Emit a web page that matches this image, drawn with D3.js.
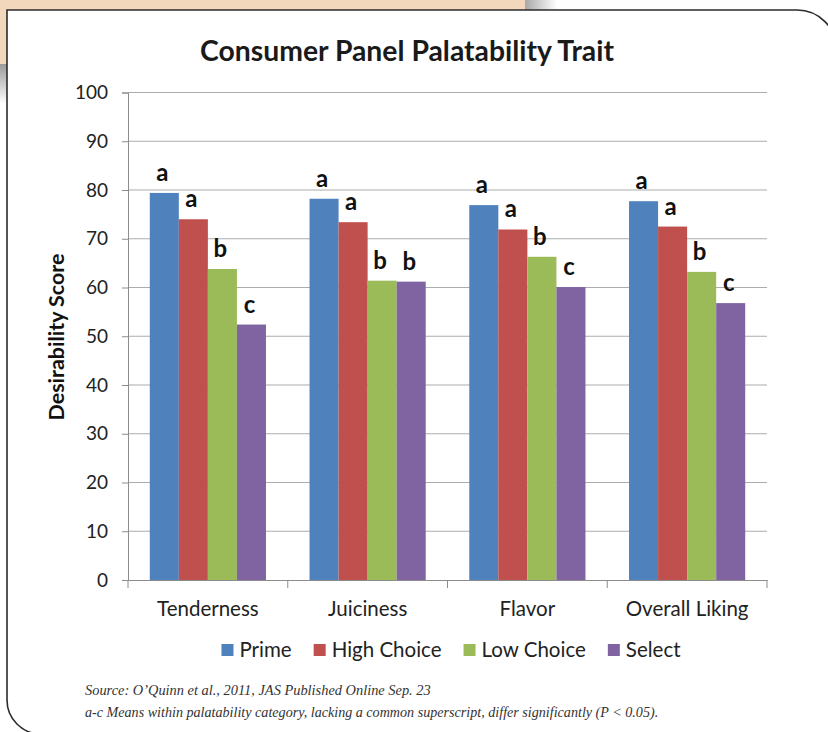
<!DOCTYPE html>
<html>
<head>
<meta charset="utf-8">
<script src="https://cdn.jsdelivr.net/npm/d3@7"></script>
<style>
  body { margin: 0; background: #fff; }
  svg { display: block; }
</style>
</head>
<body>
<svg id="chart"></svg>
<script>
// data
var categories = ["Tenderness", "Juiciness", "Flavor", "Overall Liking"];
var series = ["Prime", "High Choice", "Low Choice", "Select"];
var prime      = [79.4, 78.2, 76.9, 77.7];
var highChoice = [74.0, 73.4, 71.9, 72.5];
var lowChoice  = [63.8, 61.4, 66.3, 63.2];
var select     = [52.4, 61.2, 60.1, 56.8];
// significance letters, same layout as the values
var primeSig      = ["a", "a", "a", "a"];
var highChoiceSig = ["a", "a", "a", "a"];
var lowChoiceSig  = ["b", "b", "b", "b"];
var selectSig     = ["c", "b", "c", "c"];
var yTicks = [0, 10, 20, 30, 40, 50, 60, 70, 80, 90, 100];

var colors = ["#4F81BD", "#C0504D", "#9BBB59", "#8064A2"];
var values = [prime, highChoice, lowChoice, select];
var sigs = [primeSig, highChoiceSig, lowChoiceSig, selectSig];

var W = 828, H = 732;
var font = "Lato, 'Open Sans', sans-serif";

var svg = d3.select("#chart").attr("width", W).attr("height", H);

// shrink/grow a text node's font-size so it spans a given width
function fit(sel, w) {
    var len = sel.node().getComputedTextLength();
    var fs = parseFloat(sel.attr("font-size"));
    sel.attr("font-size", (fs * w / len).toFixed(2));
}

// --- page background bits (peach panel behind, shadows) ---
var defs = svg.append("defs");
var g1 = defs.append("linearGradient").attr("id", "shTop");
g1.append("stop").attr("offset", 0).attr("stop-color", "#a8a8a8");
g1.append("stop").attr("offset", 1).attr("stop-color", "#ffffff");
var g2 = defs.append("linearGradient").attr("id", "shLeft")
    .attr("x1", 0).attr("y1", 0).attr("x2", 0).attr("y2", 1);
g2.append("stop").attr("offset", 0).attr("stop-color", "#9a9a9a");
g2.append("stop").attr("offset", 1).attr("stop-color", "#ffffff");

svg.append("rect").attr("x", 0).attr("y", 0).attr("width", 525).attr("height", 64)
    .attr("fill", "#f2d7bd");
svg.append("rect").attr("x", 525).attr("y", 0).attr("width", 32).attr("height", 12)
    .attr("fill", "url(#shTop)");
svg.append("rect").attr("x", 0).attr("y", 64).attr("width", 8).attr("height", 40)
    .attr("fill", "url(#shLeft)");
svg.append("path")
    .attr("d", "M812,734 L836,706 L836,734 Z")
    .attr("fill", "#b0b0b0");

// white rounded panel
svg.append("path")
    .attr("d", "M7,10 H797 A39.5,39.5 0 0 1 836.5,49.5 V734 H41 A34,34 0 0 1 7,700 Z")
    .attr("fill", "#fff")
    .attr("stroke", "#2b2b2b")
    .attr("stroke-width", 1.6);

// --- chart ---
var plotL = 128, plotR = 767, plotT = 92.5, plotB = 580;

var x = d3.scaleBand().domain(categories).range([plotL, plotR]).padding(0);
var xs = d3.scaleBand().domain(series).range([0, x.bandwidth()])
    .paddingInner(0).paddingOuter(0.75);
var y = d3.scaleLinear().domain([0, 100]).range([plotB, plotT]);

// gridlines
svg.append("g").selectAll("line").data(yTicks.filter(function(d) { return d > 0; }))
    .join("line")
    .attr("x1", plotL).attr("x2", plotR)
    .attr("y1", function(d) { return y(d); }).attr("y2", function(d) { return y(d); })
    .attr("stroke", "#acacac").attr("stroke-width", 1.2);

// y axis
var yAxis = svg.append("g")
    .attr("transform", "translate(" + plotL + ",0)")
    .call(d3.axisLeft(y).tickValues(yTicks).tickSize(6).tickPadding(14));
yAxis.select(".domain").attr("stroke", "#8c8c8c");
yAxis.selectAll(".tick line").attr("stroke", "#8c8c8c");
yAxis.selectAll("text").attr("font-family", font).attr("font-size", 19)
    .attr("fill", "#222");

// bars
var groups = svg.append("g").selectAll("g").data(series).join("g")
    .attr("fill", function(d, i) { return colors[i]; });

groups.each(function(s, si) {
    d3.select(this).selectAll("rect").data(values[si]).join("rect")
        .attr("x", function(d, ci) { return x(categories[ci]) + xs(s); })
        .attr("y", function(d) { return y(d); })
        .attr("width", xs.bandwidth())
        .attr("height", function(d) { return y(0) - y(d); });
});

// significance letters
var sigLayer = svg.append("g");
series.forEach(function(s, si) {
    sigLayer.append("g").selectAll("text").data(sigs[si]).join("text")
        .attr("x", function(d, ci) { return x(categories[ci]) + xs(s) + xs.bandwidth() / 2 - 2; })
        .attr("y", function(d, ci) { return y(values[si][ci]) - 12; })
        .attr("text-anchor", "middle")
        .attr("font-family", font).attr("font-weight", "bold").attr("font-size", 24)
        .attr("fill", "#111")
        .text(function(d) { return d; });
});

// x axis
var xAxis = svg.append("g")
    .attr("transform", "translate(0," + plotB + ")")
    .call(d3.axisBottom(x).tickSize(0).tickPadding(21));
xAxis.select(".domain").attr("stroke", "#8c8c8c");
xAxis.selectAll("text").attr("font-family", font).attr("font-size", 20.5)
    .attr("fill", "#222");
svg.append("g").selectAll("line")
    .data(categories.concat(["end"]))
    .join("line")
    .attr("x1", function(d, i) { return plotL + i * x.step(); })
    .attr("x2", function(d, i) { return plotL + i * x.step(); })
    .attr("y1", plotB).attr("y2", plotB + 8)
    .attr("stroke", "#8c8c8c");

// y axis title
var yt = svg.append("text")
    .attr("transform", "translate(64,337) rotate(-90)")
    .attr("text-anchor", "middle")
    .attr("font-family", font).attr("font-weight", "bold").attr("font-size", 18)
    .attr("fill", "#111")
    .text("Desirability Score");
fit(yt, 167);

// title
var title = svg.append("text")
    .attr("x", 407).attr("y", 61)
    .attr("text-anchor", "middle")
    .attr("font-family", font).attr("font-weight", "bold").attr("font-size", 26)
    .attr("fill", "#1a1a1a")
    .text("Consumer Panel Palatability Trait");
fit(title, 414);

// legend
var legend = svg.append("g");
var lx = 0;
series.forEach(function(s, i) {
    var item = legend.append("g").attr("transform", "translate(" + lx + ",0)");
    item.append("rect").attr("x", 0).attr("y", -6).attr("width", 12).attr("height", 12)
        .attr("fill", colors[i]);
    var t = item.append("text").attr("x", 18).attr("y", 7)
        .attr("font-family", font).attr("font-size", 20.5).attr("fill", "#222")
        .text(s);
    lx += 18 + t.node().getComputedTextLength() + 22;
});
lx -= 22;
legend.attr("transform", "translate(" + (451 - lx / 2) + ",650)");

// footnotes
var f1 = svg.append("text")
    .attr("x", 85).attr("y", 695)
    .attr("font-family", "'Liberation Serif', serif").attr("font-style", "italic")
    .attr("font-size", 14).attr("fill", "#333")
    .text("Source: O\u2019Quinn et al., 2011, JAS Published Online Sep. 23");
fit(f1, 346);
var f2 = svg.append("text")
    .attr("x", 85).attr("y", 717)
    .attr("font-family", "'Liberation Serif', serif").attr("font-style", "italic")
    .attr("font-size", 14).attr("fill", "#333")
    .text("a-c Means within palatability category, lacking a common superscript, differ significantly (P  < 0.05).");
fit(f2, 573);
</script>
</body>
</html>
